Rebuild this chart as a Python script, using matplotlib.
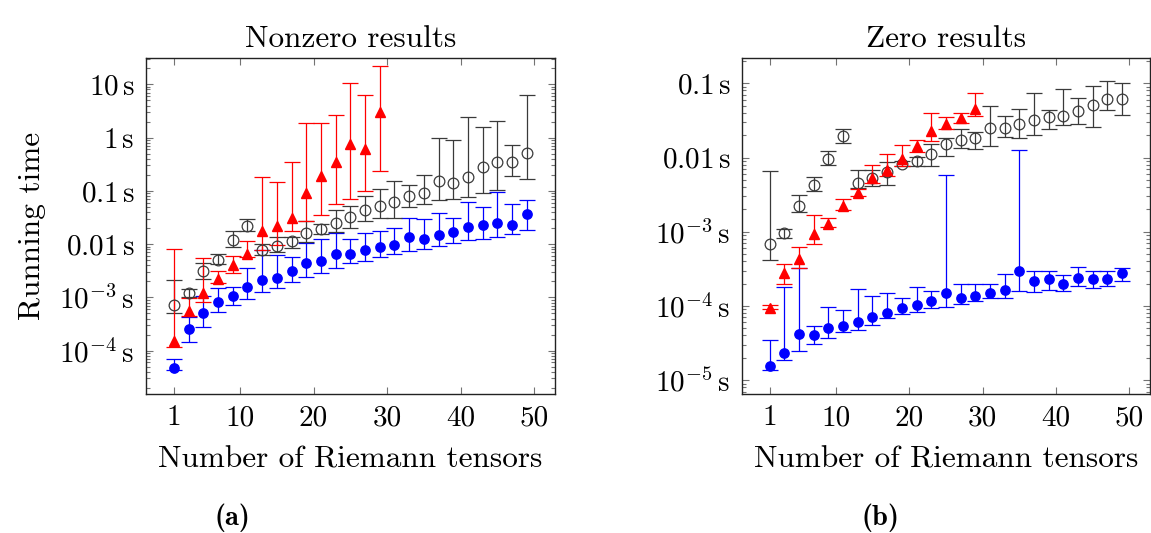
import matplotlib
matplotlib.use("Agg")
import matplotlib.pyplot as plt
import numpy as np
from matplotlib.ticker import LogLocator, NullFormatter

plt.rcParams['font.family'] = 'serif'
plt.rcParams['font.serif'] = ['cmr10']
plt.rcParams['mathtext.fontset'] = 'cm'
plt.rcParams['axes.formatter.use_mathtext'] = True

# ---------------- data ----------------
x_all = [1, 3, 5, 7, 9, 11, 13, 15, 17, 19, 21, 23, 25, 27, 29,
         31, 33, 35, 37, 39, 41, 43, 45, 47, 49]
x_red = x_all[:15]

# Nonzero results (panel a)
a_blue = [4.7e-5, 2.54e-4, 5.07e-4, 8.3e-4, 1.07e-3, 1.55e-3, 2.14e-3, 2.29e-3, 3.16e-3, 4.5e-3,
          4.9e-3, 6.5e-3, 6.5e-3, 7.8e-3, 8.9e-3, 9.8e-3, 1.35e-2, 1.23e-2, 1.48e-2, 1.7e-2,
          2.11e-2, 2.26e-2, 2.54e-2, 2.29e-2, 3.7e-2]
a_blue_lo = [4.4e-5, 1.48e-4, 2.82e-4, 5.4e-4, 7.2e-4, 9.5e-4, 1.26e-3, 1.48e-3, 1.95e-3, 2.4e-3,
             2.9e-3, 3.55e-3, 4.4e-3, 4.9e-3, 5.75e-3, 6.5e-3, 7.4e-3, 8.1e-3, 9.3e-3, 1.07e-2,
             1.19e-2, 1.26e-2, 1.38e-2, 1.55e-2, 1.82e-2]
a_blue_hi = [7.1e-5, 4.37e-4, 1.05e-3, 1.48e-3, 1.58e-3, 3.6e-3, 7.8e-3, 6.3e-3, 5.75e-3, 1.07e-2,
             1.23e-2, 1.62e-2, 1.23e-2, 1.62e-2, 1.74e-2, 2.0e-2, 3.1e-2, 2.95e-2, 3.8e-2, 3.16e-2,
             6.2e-2, 4.9e-2, 9.5e-2, 5.75e-2, 6.6e-2]

a_gray = [7.2e-4, 1.2e-3, 3.1e-3, 5.1e-3, 1.17e-2, 2.2e-2, 7.6e-3, 9.3e-3, 1.14e-2, 1.6e-2,
          1.9e-2, 2.45e-2, 3.3e-2, 4.3e-2, 5.3e-2, 6.3e-2, 7.85e-2, 9.1e-2, 0.155, 0.143,
          0.186, 0.275, 0.355, 0.347, 0.51]
a_gray_lo = [5.1e-4, 1.02e-3, 2.24e-3, 4.3e-3, 9.0e-3, 1.74e-2, 6.3e-3, 7.2e-3, 8.4e-3, 1.1e-2,
             1.55e-2, 1.66e-2, 2.0e-2, 2.75e-2, 3.16e-2, 3.16e-2, 4.9e-2, 5.75e-2, 6.8e-2, 7.1e-2,
             7.8e-2, 9.3e-2, 0.105, 0.19, 0.168]
a_gray_hi = [2.1e-3, 1.45e-3, 4.5e-3, 6.5e-3, 1.74e-2, 3.0e-2, 1.0e-2, 1.35e-2, 1.38e-2, 2.66e-2,
             2.4e-2, 4.3e-2, 5.2e-2, 8.1e-2, 0.11, 0.155, 0.129, 0.2, 1.0, 0.91,
             2.45, 1.57, 2.04, 0.72, 6.3]

a_red = [1.55e-4, 5.6e-4, 1.23e-3, 2.24e-3, 4.1e-3, 6.5e-3, 1.74e-2, 2.2e-2, 3.1e-2, 9.1e-2,
         0.19, 0.355, 0.75, 0.6, 3.0]
a_red_lo = [1.17e-4, 4.5e-4, 8.3e-4, 1.9e-3, 2.9e-3, 5.75e-3, 7.6e-3, 9.8e-3, 1.74e-2, 2.66e-2,
            3.55e-2, 5.75e-2, 7.1e-2, 9.8e-2, 0.237]
a_red_hi = [8.1e-3, 9.8e-4, 5.5e-3, 3.1e-3, 5.9e-3, 1.12e-2, 0.186, 0.148, 0.35, 1.9,
            1.9, 2.66, 10.5, 6.2, 22.1]

# Zero results (panel b)
b_blue = [1.55e-5, 2.35e-5, 4.2e-5, 4.0e-5, 5.0e-5, 5.4e-5, 6.0e-5, 7.2e-5, 8.1e-5, 9.5e-5,
          1.02e-4, 1.17e-4, 1.51e-4, 1.29e-4, 1.35e-4, 1.51e-4, 1.64e-4, 2.95e-4, 2.2e-4, 2.3e-4,
          2.0e-4, 2.35e-4, 2.3e-4, 2.3e-4, 2.75e-4]
b_blue_lo = [1.35e-5, 1.86e-5, 2.45e-5, 3.1e-5, 3.7e-5, 4.4e-5, 4.8e-5, 5.6e-5, 6.9e-5, 7.9e-5,
             8.3e-5, 9.5e-5, 9.8e-5, 1.06e-4, 1.17e-4, 1.26e-4, 1.29e-4, 1.6e-4, 1.55e-4, 1.66e-4,
             1.6e-4, 1.86e-4, 1.74e-4, 1.86e-4, 2.2e-4]
b_blue_hi = [3.5e-5, 1.82e-4, 3.24e-4, 5.4e-5, 9.8e-5, 8.9e-5, 1.7e-4, 1.38e-4, 1.48e-4, 1.29e-4,
             1.82e-4, 1.58e-4, 5.8e-3, 1.95e-4, 2.0e-4, 2.0e-4, 2.66e-4, 1.26e-2, 2.95e-4, 2.95e-4,
             2.63e-4, 3.3e-4, 3.0e-4, 3.0e-4, 3.24e-4]

b_gray = [6.8e-4, 9.5e-4, 2.24e-3, 4.2e-3, 9.5e-3, 1.95e-2, 4.6e-3, 5.25e-3, 6.3e-3, 8.3e-3,
          8.9e-3, 1.1e-2, 1.51e-2, 1.72e-2, 1.82e-2, 2.48e-2, 2.48e-2, 2.8e-2, 3.2e-2, 3.5e-2,
          3.6e-2, 4.2e-2, 5.1e-2, 6.2e-2, 6.2e-2]
b_gray_lo = [4.2e-4, 8.3e-4, 1.82e-3, 3.55e-3, 7.9e-3, 1.58e-2, 3.85e-3, 4.1e-3, 4.3e-3, 7.6e-3,
             7.6e-3, 7.6e-3, 1.06e-2, 1.35e-2, 1.3e-2, 1.45e-2, 1.9e-2, 1.82e-2, 2.0e-2, 2.45e-2,
             2.75e-2, 2.8e-2, 2.6e-2, 4.3e-2, 3.7e-2]
b_gray_hi = [6.5e-3, 1.1e-3, 3.16e-3, 5.4e-3, 1.24e-2, 2.4e-2, 6.8e-3, 6.8e-3, 8.7e-3, 8.9e-3,
             1.02e-2, 1.51e-2, 1.82e-2, 2.43e-2, 2.2e-2, 5.0e-2, 3.6e-2, 4.5e-2, 7.3e-2, 4.3e-2,
             8.5e-2, 6.3e-2, 9.3e-2, 0.108, 0.102]

b_red = [9.5e-5, 2.75e-4, 4.3e-4, 9.3e-4, 1.29e-3, 2.19e-3, 3.3e-3, 5.25e-3, 6.8e-3, 9.5e-3,
         1.41e-2, 2.3e-2, 2.8e-2, 3.4e-2, 4.5e-2]
b_red_lo = [9.0e-5, 2.0e-4, 3.24e-4, 6.8e-4, 1.17e-3, 1.95e-3, 3.0e-3, 4.5e-3, 5.7e-3, 7.6e-3,
            1.2e-2, 1.68e-2, 2.43e-2, 2.95e-2, 3.6e-2]
b_red_hi = [1.02e-4, 3.67e-4, 6.3e-4, 1.7e-3, 1.51e-3, 2.75e-3, 3.8e-3, 7.9e-3, 1.1e-2, 1.48e-2,
            1.74e-2, 4.0e-2, 3.5e-2, 4.0e-2, 7.3e-2]

x_ticks = [1, 10, 20, 30, 40, 50]
a_yticks = [1e-4, 1e-3, 1e-2, 1e-1, 1, 10]
a_yticklabels = [r'$10^{-4}\,\mathrm{s}$', r'$10^{-3}\,\mathrm{s}$', r'$0.01\,\mathrm{s}$',
                 r'$0.1\,\mathrm{s}$', r'$1\,\mathrm{s}$', r'$10\,\mathrm{s}$']
b_yticks = [1e-5, 1e-4, 1e-3, 1e-2, 1e-1]
b_yticklabels = [r'$10^{-5}\,\mathrm{s}$', r'$10^{-4}\,\mathrm{s}$', r'$10^{-3}\,\mathrm{s}$',
                 r'$0.01\,\mathrm{s}$', r'$0.1\,\mathrm{s}$']

# ---------------- figure ----------------
W, H = 1151, 533
fig = plt.figure(figsize=(W / 100, H / 100), dpi=100)

def px_axes(l, t, r, b):
    return fig.add_axes([l / W, 1 - b / H, (r - l) / W, (b - t) / H])

axA = px_axes(145.7, 57.7, 555, 394)
axB = px_axes(741.7, 57.7, 1150, 394)

def yerr(v, lo, hi):
    v = np.asarray(v); lo = np.asarray(lo); hi = np.asarray(hi)
    return [v - lo, hi - v]

def draw(ax, blue, blo, bhi, gray, glo, ghi, red, rlo, rhi):
    ekw = dict(capsize=5.5, elinewidth=0.9, capthick=0.9, linestyle='none')
    ax.errorbar(x_all, blue, yerr=yerr(blue, blo, bhi), fmt='o', color='#0000ff',
                markersize=6.7, ecolor='#0000ff', **ekw)
    ax.errorbar(x_all, gray, yerr=yerr(gray, glo, ghi), fmt='o', color='#3a3a3a',
                mfc='none', mec='#3a3a3a', mew=0.9, markersize=7.7, ecolor='#3a3a3a', **ekw)
    ax.errorbar(x_red, red, yerr=yerr(red, rlo, rhi), fmt='^', color='#ff0000',
                markersize=7.7, ecolor='#ff0000', **ekw)

draw(axA, a_blue, a_blue_lo, a_blue_hi, a_gray, a_gray_lo, a_gray_hi, a_red, a_red_lo, a_red_hi)
draw(axB, b_blue, b_blue_lo, b_blue_hi, b_gray, b_gray_lo, b_gray_hi, b_red, b_red_lo, b_red_hi)

tick_fs = 21
lab_fs = 22.5
for ax, yt, ytl, ylim in [(axA, a_yticks, a_yticklabels, (10 ** -4.814, 10 ** 1.5)),
                          (axB, b_yticks, b_yticklabels, (10 ** -5.187, 10 ** -0.655))]:
    ax.set_yscale('log')
    ax.set_xlim(-2.83, 52.83)
    ax.set_ylim(*ylim)
    ax.set_xticks(x_ticks)
    ax.set_xticklabels([str(v) for v in x_ticks], fontsize=tick_fs)
    ax.set_yticks(yt)
    ax.set_yticklabels(ytl, fontsize=tick_fs)
    ax.yaxis.set_minor_locator(LogLocator(base=10, subs=np.arange(2, 10), numticks=20))
    ax.yaxis.set_minor_formatter(NullFormatter())
    ax.tick_params(which='both', direction='in', top=True, right=True, color='0.45', width=0.8)
    ax.tick_params(which='major', length=5, pad=8)
    ax.tick_params(which='minor', length=2.8)
    for s in ax.spines.values():
        s.set_linewidth(1.0)
        s.set_color('#222222')
    ax.set_xlabel('Number of Riemann tensors', fontsize=lab_fs, labelpad=10)

axA.set_title('Nonzero results', fontsize=lab_fs, pad=8)
axB.set_title('Zero results', fontsize=lab_fs, pad=8)
axA.set_ylabel('Running time', fontsize=lab_fs, labelpad=10)

fig.text(232 / W, 1 - 518 / H, '(a)', fontsize=20.5, fontname='cmb10', ha='center', va='center')
fig.text(880 / W, 1 - 518 / H, '(b)', fontsize=20.5, fontname='cmb10', ha='center', va='center')

fig.savefig('out.png', dpi=100)
